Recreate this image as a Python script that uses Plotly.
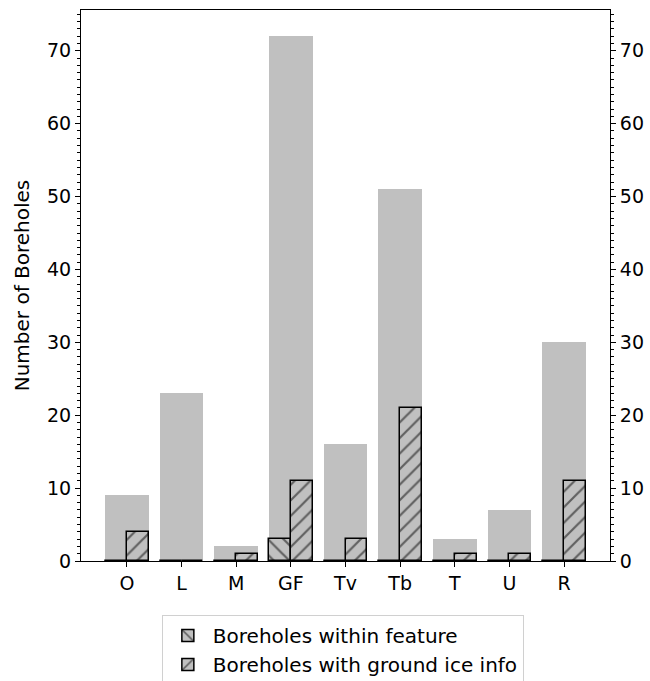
import plotly.graph_objects as go

categories = ["O", "L", "M", "GF", "Tv", "Tb", "T", "U", "R"]
total_boreholes = [9, 23, 2, 72, 16, 51, 3, 7, 30]
within_feature = [0, 0, 0, 3, 0, 0, 0, 0, 0]
ground_ice_info = [4, 0, 1, 11, 3, 21, 1, 1, 11]

pos = list(range(len(categories)))
ymax = max(total_boreholes) * 1.05
font = "DejaVu Sans, sans-serif"
tick_size = 19
text_size = 20
gray = "#c0c0c0"

fig = go.Figure()

fig.add_trace(go.Bar(
    x=pos, y=total_boreholes, width=0.8,
    marker=dict(color=gray, line=dict(width=0)),
    showlegend=False, hoverinfo="skip",
))
fig.add_trace(go.Bar(
    x=[p - 0.2 for p in pos], y=within_feature, width=0.4,
    name="Boreholes within feature",
    marker=dict(color=gray, line=dict(color="black", width=1.5),
                pattern=dict(shape="\\", fgcolor="black", bgcolor=gray,
                             size=11, solidity=0.2)),
    hoverinfo="skip",
))
fig.add_trace(go.Bar(
    x=[p + 0.2 for p in pos], y=ground_ice_info, width=0.4,
    name="Boreholes with ground ice info",
    marker=dict(color=gray, line=dict(color="black", width=1.5),
                pattern=dict(shape="/", fgcolor="black", bgcolor=gray,
                             size=11, solidity=0.2)),
    hoverinfo="skip",
))
# invisible trace to carry the right-hand axis
fig.add_trace(go.Scatter(x=[0], y=[0], yaxis="y2", mode="markers",
                         marker=dict(opacity=0), showlegend=False,
                         hoverinfo="skip"))

yticks = list(range(0, 71, 10))
common_y = dict(
    range=[0, ymax], tickvals=yticks, ticks="outside", ticklen=5,
    tickwidth=1, tickcolor="black", showline=True, linecolor="black",
    linewidth=1, showgrid=False, zeroline=False,
    tickfont=dict(family=font, size=tick_size, color="black"),
    minor=dict(dtick=1, ticks="outside", ticklen=3, tickwidth=0.8,
               tickcolor="black", showgrid=False),
)

fig.update_layout(
    width=650, height=681,
    margin=dict(l=81, r=40, t=10, b=120, autoexpand=False),
    plot_bgcolor="white", paper_bgcolor="white",
    barmode="overlay", bargap=0,
    font=dict(family=font, size=text_size, color="black"),
    xaxis=dict(
        range=[-0.84, len(categories) - 1 + 0.84],
        tickvals=pos, ticktext=categories, ticks="outside", ticklen=5,
        tickcolor="black", showline=True, linecolor="black", linewidth=1,
        mirror=True, showgrid=False, zeroline=False,
        tickfont=dict(family=font, size=tick_size, color="black"),
    ),
    yaxis=dict(title=dict(text="Number of Boreholes",
                          font=dict(family=font, size=text_size), standoff=12),
               side="left", **common_y),
    yaxis2=dict(overlaying="y", side="right", **common_y),
    legend=dict(
        orientation="v", x=0.495, xanchor="center", y=-0.098, yanchor="top",
        bordercolor="#d0d0d0", borderwidth=1, bgcolor="white",
        font=dict(family=font, size=text_size), itemwidth=40,
    ),
)

fig.write_html("out.html")
